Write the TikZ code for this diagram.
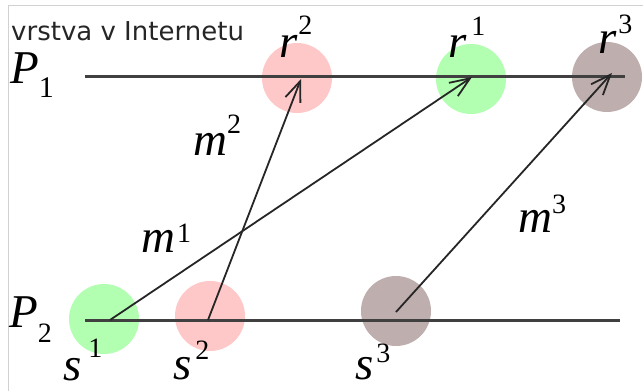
\documentclass[tikz,border=0pt]{standalone}
\usepackage{fontspec}
\setmainfont{Liberation Serif}
\newfontfamily\uisans{DejaVu Sans}
\usetikzlibrary{arrows.meta}
\newcommand\digup[2]{\raisebox{#1pt}{\fontsize{28}{28}\selectfont\upshape #2}}
\begin{document}
\begin{tikzpicture}[x=1pt,y=-1pt,
  lbl/.style={anchor=base west, inner sep=0pt, font=\fontsize{47}{47}\selectfont\itshape},
  blob/.style={circle, minimum size=70pt, inner sep=0pt, draw=none},
  tl/.style={draw=black!75, line width=3pt},
  msg/.style={draw=black!85, line width=1.8pt, -{Straight Barb[length=20pt,width=16pt,line width=1.8pt]}}]
\useasboundingbox (0,0) rectangle (643,391);
\fill[white] (0,0) rectangle (643,391);
\draw[black!18, line width=1pt] (8,391) -- (8,5) -- (643,5);
\node[anchor=base west, inner sep=0pt, font=\uisans\fontsize{26}{26}\selectfont, text=black!85] (title) at (11,40) {vrstva v Internetu};
% blobs
\definecolor{gblob}{RGB}{178,255,178}
\definecolor{pblob}{RGB}{255,200,200}
\definecolor{bblob}{RGB}{190,174,174}
\node[blob, fill=pblob] (r2) at (297,78) {};
\node[blob, fill=gblob] (r1) at (471,79) {};
\node[blob, fill=bblob] (r3) at (607,77) {};
\node[blob, fill=gblob] (s1) at (104,319) {};
\node[blob, fill=pblob] (s2) at (210,316) {};
\node[blob, fill=bblob] (s3) at (396,311) {};
% process lines
\coordinate (p1a) at (85,76);
\coordinate (p1b) at (625,76);
\coordinate (p2a) at (85,320);
\coordinate (p2b) at (620,320);
\draw[tl] (p1a) -- (p1b);
\draw[tl] (p2a) -- (p2b);
% messages
\coordinate (m1s) at (110,320);
\coordinate (m2s) at (208,320);
\coordinate (m3s) at (396,312);
\coordinate (m1e) at (472,77);
\coordinate (m2e) at (301,79);
\coordinate (m3e) at (612,73);
\draw[msg] (m1s) -- (m1e);
\draw[msg] (m2s) -- (m2e);
\draw[msg] (m3s) -- (m3e);
% labels
\node[lbl] (P1) at (10,83) {P\raisebox{-14pt}{\fontsize{30}{30}\selectfont\upshape 1}};
\node[lbl] (P2) at (9,327) {P\raisebox{-15pt}{\fontsize{28}{28}\selectfont\upshape 2}};
\node[lbl] (lr2) at (279,57) {r\kern1pt\digup{23}{2}};
\node[lbl] (lr1) at (448,57) {r\kern5pt\digup{22}{1}};
\node[lbl] (lr3) at (598,53) {r\kern2pt\digup{20}{3}};
\node[lbl] (lm2) at (193,155) {m\digup{22}{2}};
\node[lbl] (lm1) at (141,252) {m\kern2pt\digup{10}{1}};
\node[lbl] (lm3) at (518,232) {m\digup{19}{3}};
\node[lbl] (ls1) at (63,380) {s\kern7pt\digup{23}{1}};
\node[lbl] (ls2) at (173,379) {s\kern4pt\digup{20}{2}};
\node[lbl] (ls3) at (355,379) {s\kern3pt\digup{17}{3}};
\end{tikzpicture}
\end{document}
